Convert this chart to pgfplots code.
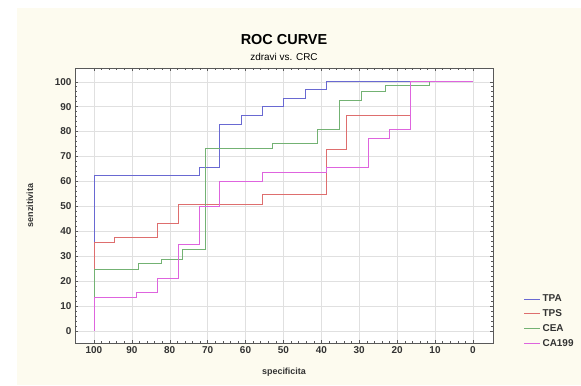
\documentclass[border=0pt]{standalone}
\usepackage{fontspec}
\setmainfont{Liberation Sans}
\usepackage{pgfplots}
\pgfplotsset{compat=1.18}
\definecolor{cream}{HTML}{FDFBEF}
\definecolor{cTPA}{RGB}{105,105,210}
\definecolor{cTPS}{RGB}{222,110,110}
\definecolor{cCEA}{RGB}{115,178,115}
\definecolor{cCA}{RGB}{222,100,222}
\begin{document}
\begin{tikzpicture}[x=1bp,y=1bp]
\useasboundingbox (-75,-42) rectangle (506,343);
\fill[cream] (-58,-42) rectangle (506,335);
\node[font=\bfseries\fontsize{14.5}{16}\selectfont] at (209,303) {ROC CURVE};
\node[font=\fontsize{10}{12}\selectfont] at (209,286) {zdravi vs. CRC};
\begin{axis}[
  at={(0,0)}, anchor=south west, scale only axis,
  width=418bp, height=275bp,
  x dir=reverse,
  xmin=-5.3, xmax=105, ymin=-4.9, ymax=105.5,
  xtick={0,10,...,100}, ytick={0,10,...,100},
  minor tick num=4,
  grid=major,
  major grid style={black!12, line width=0.4pt},
  axis background/.style={fill=white},
  axis line style={black!65, line width=0.6pt},
  tick style={black!65, line width=0.4pt},
  major tick length=3bp, minor tick length=2bp,
  tick align=inside,
  ticklabel style={font=\bfseries\fontsize{10}{12}\selectfont, text=black!80},
  /pgf/number format/assume math mode=true,
  xlabel={specificita}, ylabel={senzitivita},
  xlabel style={at={(axis description cs:0.5,-0.105)}, anchor=center, font=\bfseries\fontsize{9}{11}\selectfont, text=black!80},
  ylabel style={at={(axis description cs:-0.108,0.5)}, anchor=center, font=\bfseries\fontsize{9}{11}\selectfont, text=black!80},
  legend style={at={(axis description cs:1.066,0.19)}, anchor=north west, draw=none, fill=none,
    font=\bfseries\fontsize{10}{12}\selectfont, text=black!80, row sep=2.3bp},
  legend cell align=left,
  legend image code/.code={\draw[#1] (0bp,0bp) -- (16bp,0bp);},
  every axis plot/.append style={line width=0.8pt, const plot},
]
\addplot[cTPA] coordinates {(100,0) (100,62.2) (72.3,65.6) (66.8,83) (61.2,86.6) (55.6,90) (50,93.3) (44.3,96.9) (38.6,100) (0,100)};
\addlegendentry{TPA}
\addplot[cTPS] coordinates {(100,0) (100,35.3) (94.5,37.3) (83.2,43.1) (77.8,50.9) (55.6,54.9) (38.6,72.9) (33.3,86.6) (16.6,100) (0,100)};
\addlegendentry{TPS}
\addplot[cCEA] coordinates {(100,0) (100,24.8) (88.3,27) (82.3,28.8) (76.6,32.7) (70.7,73.2) (52.9,75.3) (41.1,80.9) (35.3,92.4) (29.4,96) (23.2,98.4) (11.5,100) (0,100)};
\addlegendentry{CEA}
\addplot[cCA] coordinates {(100,0) (100,13.4) (88.9,15.3) (83.2,21) (77.8,34.7) (72.2,50.1) (66.8,59.8) (55.5,63.5) (38.6,65.6) (27.6,77.3) (22.1,80.9) (16.6,100) (0,100)};
\addlegendentry{CA199}
\end{axis}
\end{tikzpicture}
\end{document}
